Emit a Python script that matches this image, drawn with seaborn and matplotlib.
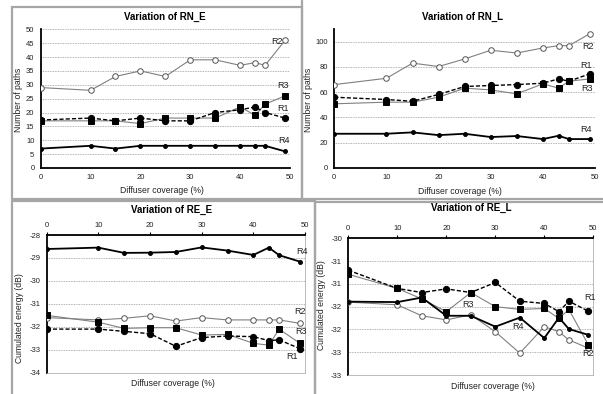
import matplotlib
matplotlib.use("Agg")
import matplotlib.pyplot as plt
import seaborn as sns
import pandas as pd
from matplotlib.patches import Rectangle

sns.set_style("white")
plt.rcParams['font.family'] = ['Liberation Sans', 'DejaVu Sans']
plt.rcParams['axes.unicode_minus'] = False

# ---------------- data ----------------
coverage = [0, 10, 15, 20, 25, 30, 35, 40, 43, 45, 49]

rn_e_r1 = [17.3, 18, 17, 18, 17, 17, 20, 21, 22, 20, 18]
rn_e_r2 = [29, 28, 33, 35, 33, 39, 39, 37, 38, 37, 46]
rn_e_r3 = [17, 17, 17, 16, 18, 18, 18, 22, 19, 23, 26]
rn_e_r4 = [7, 8, 7, 8, 8, 8, 8, 8, 8, 8, 6]

rn_l_r1 = [56, 54.2, 52.8, 58.2, 64.5, 65.3, 66, 67.1, 70.5, 68.7, 74.5]
rn_l_r2 = [66, 71, 83, 80.3, 86.3, 93.2, 91, 95, 96.8, 96.8, 106.3]
rn_l_r3 = [50.8, 52.1, 52.1, 56, 63.2, 61.8, 58.7, 66.6, 63.2, 68.7, 70.5]
rn_l_r4 = [27.1, 27.1, 28.2, 26, 27.1, 24.5, 25.3, 22.9, 25.5, 22.9, 22.9]

re_e_r1 = [-32.1, -32.1, -32.2, -32.3, -32.85, -32.47, -32.4, -32.43, -32.6, -32.57, -32.95]
re_e_r2 = [-31.6, -31.7, -31.63, -31.52, -31.75, -31.6, -31.7, -31.7, -31.7, -31.7, -31.85]
re_e_r3 = [-31.5, -31.8, -32.07, -32.04, -32.04, -32.36, -32.33, -32.72, -32.8, -32.1, -32.72]
re_e_r4 = [-28.61, -28.55, -28.78, -28.77, -28.74, -28.54, -28.68, -28.87, -28.55, -28.88, -29.16]

re_l_r1 = [-30.7, -31.10, -31.19, -31.11, -31.19, -30.97, -31.38, -31.43, -31.61, -31.38, -31.6]
re_l_r2 = [-31.40, -31.46, -31.70, -31.79, -31.68, -32.05, -32.52, -31.94, -32.05, -32.23, -32.41]
re_l_r3 = [-30.79, -31.10, -31.33, -31.61, -31.19, -31.5, -31.56, -31.54, -31.76, -31.56, -32.34]
re_l_r4 = [-31.39, -31.40, -31.30, -31.70, -31.70, -31.94, -31.74, -32.19, -31.74, -31.99, -32.12]

titles = ["Variation of RN_E", "Variation of RN_L", "Variation of RE_E", "Variation of RE_L"]
xlabel = "Diffuser coverage (%)"
ylabel_paths = "Number of paths"
ylabel_energy = "Cumulated energy (dB)"
x_ticks = [0, 10, 20, 30, 40, 50]
rn_e_yticks = [0, 5, 10, 15, 20, 25, 30, 35, 40, 45, 50]
rn_l_yticks = [0, 20, 40, 60, 80, 100]
re_e_yticks = [-34, -33, -32, -31, -30, -29, -28]
re_l_yticks = [-33, -32.5, -32, -31.5, -31, -30.5, -30]
re_l_yticklabels = ["-33", "-33", "-32", "-32", "-31", "-31", "-30"]

W, H = 603, 394
fig = plt.figure(figsize=(W / 100, H / 100), dpi=100)


def px_axes(x0, y0, x1, y1):
    return fig.add_axes([x0 / W, 1 - y1 / H, (x1 - x0) / W, (y1 - y0) / H])


def ftext(x, y, s, **kw):
    fig.text(x / W, 1 - y / H, s, **kw)


# panel frames
frame_col = "#a6a6a6"
for (x0, y0, x1, y1) in [(12, 7, 302, 199), (302, -2, 606, 199),
                         (12, 201, 315, 397), (315, 202, 606, 397)]:
    fig.patches.append(Rectangle((x0 / W, 1 - y1 / H), (x1 - x0) / W, (y1 - y0) / H,
                                 transform=fig.transFigure, fill=False,
                                 edgecolor=frame_col, linewidth=1.6, zorder=0))

styles = {
    "R2": dict(color="#808080", lw=0.8, ls="-", marker="o", ms=4, mfc="white", mec="#555555"),
    "R3": dict(color="#808080", lw=0.8, ls="-", marker="s", ms=4.5, mfc="black", mec="black"),
    "R1": dict(color="black", lw=1.0, ls=(0, (3, 1.5)), marker="o", ms=4.5, mfc="black", mec="black"),
    "R4": dict(color="black", lw=1.3, ls="-", marker="o", ms=2.8, mfc="black", mec="black"),
}


def draw(ax, series):
    for name in ["R2", "R3", "R1", "R4"]:
        st = styles[name]
        df = pd.DataFrame({"x": coverage, "y": series[name]})
        sns.lineplot(data=df, x="x", y="y", ax=ax, color=st["color"], linewidth=st["lw"],
                     linestyle=st["ls"], marker=st["marker"], markersize=st["ms"],
                     markerfacecolor=st["mfc"], markeredgecolor=st["mec"],
                     markeredgewidth=0.7, sort=False, zorder=3)
    ax.set_xlabel("")
    ax.set_ylabel("")


def style_axes(ax, top_axis):
    ax.set_xlim(0, 50)
    ax.set_xticks(x_ticks)
    ax.tick_params(axis="both", labelsize=5.5, length=2.5, width=0.8, direction="out",
                   color="black", pad=2, labelcolor="#222222")
    ax.grid(axis="y", linestyle=(0, (1, 1)), color="#9a9a9a", linewidth=0.6)
    ax.grid(axis="x", visible=False)
    for s in ax.spines.values():
        s.set_visible(False)
    ax.spines["left"].set_visible(True)
    ax.spines["left"].set_color("black")
    ax.spines["left"].set_linewidth(1.3)
    if top_axis:
        ax.xaxis.tick_top()
        ax.spines["top"].set_visible(True)
        ax.spines["top"].set_color("black")
        ax.spines["top"].set_linewidth(1.3)
        for side in ["right", "bottom"]:
            ax.spines[side].set_visible(True)
            ax.spines[side].set_color("#b0b0b0")
            ax.spines[side].set_linewidth(0.6)
    else:
        ax.spines["bottom"].set_visible(True)
        ax.spines["bottom"].set_color("black")
        ax.spines["bottom"].set_linewidth(1.3)
    ax.set_facecolor("white")


lab_kw = dict(fontsize=6.5, color="#222222", ha="center", va="center")

# ---- RN_E ----
ax1 = px_axes(40.7, 29.3, 290, 168)
draw(ax1, {"R1": rn_e_r1, "R2": rn_e_r2, "R3": rn_e_r3, "R4": rn_e_r4})
style_axes(ax1, False)
ax1.set_ylim(0, 50)
ax1.set_yticks(rn_e_yticks)
ax1.text(47.3, 45.5, "R2", **lab_kw)
ax1.text(48.5, 29.6, "R3", **lab_kw)
ax1.text(48.5, 21.5, "R1", **lab_kw)
ax1.text(48.7, 9.8, "R4", **lab_kw)

# ---- RN_L ----
ax2 = px_axes(334.3, 29, 595, 168)
draw(ax2, {"R1": rn_l_r1, "R2": rn_l_r2, "R3": rn_l_r3, "R4": rn_l_r4})
style_axes(ax2, False)
ax2.set_ylim(0, 110)
ax2.set_yticks(rn_l_yticks)
ax2.text(48.7, 95.9, "R2", **lab_kw)
ax2.text(48.3, 80.9, "R1", **lab_kw)
ax2.text(48.5, 63, "R3", **lab_kw)
ax2.text(48.3, 30.6, "R4", **lab_kw)

# ---- RE_E ----
ax3 = px_axes(46.7, 235, 305, 372.7)
draw(ax3, {"R1": re_e_r1, "R2": re_e_r2, "R3": re_e_r3, "R4": re_e_r4})
style_axes(ax3, True)
ax3.set_ylim(-34, -28)
ax3.set_yticks(re_e_yticks)
ax3.text(49.4, -28.73, "R4", **lab_kw)
ax3.text(49.0, -31.34, "R2", **lab_kw)
ax3.text(49.2, -32.21, "R3", **lab_kw)
ax3.text(47.4, -33.3, "R1", **lab_kw)

# ---- RE_L ----
ax4 = px_axes(348.3, 238.3, 593.3, 375)
draw(ax4, {"R1": re_l_r1, "R2": re_l_r2, "R3": re_l_r3, "R4": re_l_r4})
style_axes(ax4, True)
ax4.set_ylim(-33, -30)
ax4.set_yticks(re_l_yticks)
ax4.set_yticklabels(re_l_yticklabels)
ax4.text(49.3, -31.31, "R1", **lab_kw)
ax4.text(24.5, -31.46, "R3", **lab_kw)
ax4.text(34.7, -31.94, "R4", **lab_kw)
ax4.text(49.0, -32.52, "R2", **lab_kw)

# titles and axis labels
tkw = dict(fontsize=7, fontweight="bold", ha="center", va="center", color="black")
ftext(165, 17.3, titles[0], **tkw)
ftext(463, 17.3, titles[1], **tkw)
ftext(171.5, 210, titles[2], **tkw)
ftext(471.7, 208.3, titles[3], **tkw)

xkw = dict(fontsize=6.2, ha="center", va="center", color="#222222")
ftext(161.7, 190.7, xlabel, **xkw)
ftext(460, 191.5, xlabel, **xkw)
ftext(173, 383, xlabel, **xkw)
ftext(493, 386.5, xlabel, **xkw)

ykw = dict(fontsize=6.2, ha="center", va="center", color="#222222", rotation=90)
ftext(18.3, 100, ylabel_paths, **ykw)
ftext(308.5, 100, ylabel_paths, **ykw)
ftext(20, 318, ylabel_energy, **ykw)
ftext(321.7, 305, ylabel_energy, **ykw)

fig.savefig("out.png", dpi=100, facecolor="white")
